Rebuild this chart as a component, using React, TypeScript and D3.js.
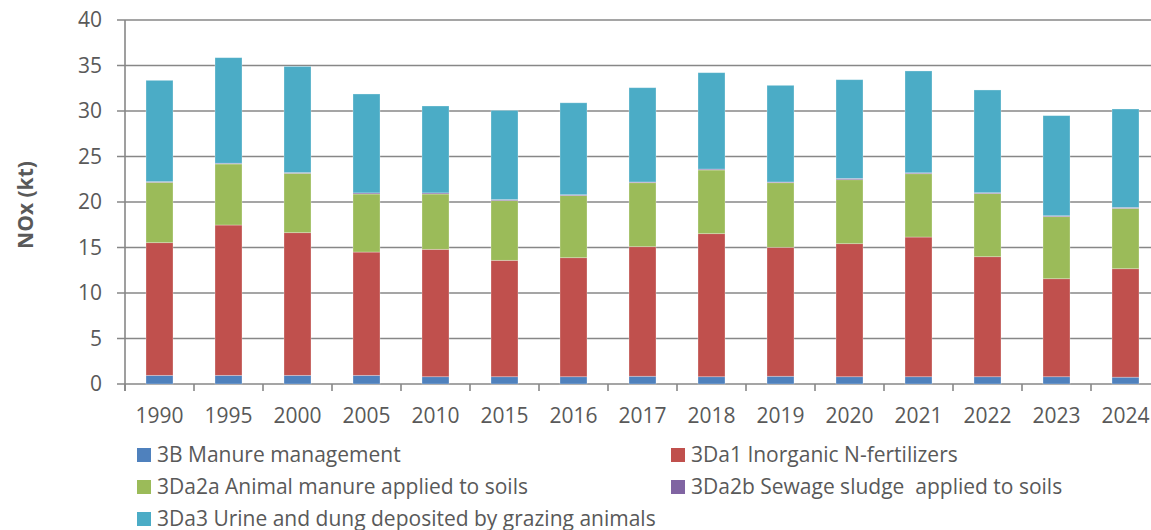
import React from "react";
import * as d3 from "d3";

const years = ["1990", "1995", "2000", "2005", "2010", "2015", "2016", "2017", "2018", "2019", "2020", "2021", "2022", "2023", "2024"];

const manure = [0.95, 0.95, 0.95, 0.95, 0.8, 0.8, 0.8, 0.85, 0.8, 0.85, 0.8, 0.8, 0.8, 0.8, 0.75];
const fertilizers = [14.58, 16.52, 15.68, 13.55, 14.0, 12.79, 13.08, 14.24, 15.72, 14.17, 14.62, 15.35, 13.19, 10.77, 11.92];
const animalManure = [6.63, 6.71, 6.52, 6.38, 6.08, 6.56, 6.82, 7.03, 7.0, 7.1, 7.03, 6.96, 6.93, 6.82, 6.63];
const sewage = [0.08, 0.08, 0.08, 0.12, 0.12, 0.12, 0.1, 0.08, 0.1, 0.08, 0.14, 0.1, 0.1, 0.1, 0.1];
const grazing = [11.13, 11.6, 11.67, 10.87, 9.55, 9.8, 10.1, 10.36, 10.59, 10.62, 10.85, 11.19, 11.29, 11.0, 10.82];

const yTicks = [0, 5, 10, 15, 20, 25, 30, 35, 40];

const seriesNames = [
  "3B Manure management",
  "3Da1 Inorganic N-fertilizers",
  "3Da2a Animal manure applied to soils",
  "3Da2b Sewage sludge  applied to soils",
  "3Da3 Urine and dung deposited by grazing animals",
];
const colors = ["#4F81BD", "#C0504D", "#9BBB59", "#8064A2", "#4BACC6"];

const W = 1151, H = 530;
const left = 125, right = 1160, top = 20, bottom = 384;
const textColor = "#595959";
const gridColor = "#878787";
const font = "'Open Sans', sans-serif";

export default function App() {
  const keys = ["manure", "fertilizers", "animalManure", "sewage", "grazing"];
  const rows = years.map((year, i) => ({
    year,
    manure: manure[i],
    fertilizers: fertilizers[i],
    animalManure: animalManure[i],
    sewage: sewage[i],
    grazing: grazing[i],
  }));
  const stacked = d3.stack<any>().keys(keys)(rows);

  const x = d3
    .scaleBand()
    .domain(years)
    .range([left, right])
    .paddingInner(42 / 69)
    .paddingOuter(21 / 69);
  const y = d3.scaleLinear().domain([0, 40]).range([bottom, top]);

  const gap = (x.step() - x.bandwidth()) / 2;
  const boundaries = years.map((yr) => (x(yr) as number) - gap);
  boundaries.push(right);

  const legendItems = [
    { i: 0, lx: 137, ly: 455 },
    { i: 1, lx: 671, ly: 455 },
    { i: 2, lx: 137, ly: 487 },
    { i: 3, lx: 671, ly: 487 },
    { i: 4, lx: 137, ly: 519 },
  ];

  return (
    <svg
      width={W}
      height={H}
      style={{ position: "absolute", left: 0, top: 0, display: "block", background: "#fff" }}
    >
      {/* gridlines */}
      {yTicks.map((t) => (
        <line key={t} x1={117} x2={W} y1={y(t)} y2={y(t)} stroke={gridColor} strokeWidth={1.6} />
      ))}
      {/* axis lines */}
      <line x1={left} x2={left} y1={top} y2={bottom + 7} stroke={gridColor} strokeWidth={1.6} />
      {boundaries.map((b, i) => (
        <line key={i} x1={b} x2={b} y1={bottom} y2={bottom + 7} stroke={gridColor} strokeWidth={1.6} />
      ))}

      {/* bars */}
      {stacked.map((s, si) => (
        <g key={s.key} fill={colors[si]}>
          {s.map((d: any, i: number) => (
            <rect
              key={i}
              x={x(years[i])}
              width={x.bandwidth()}
              y={y(d[1])}
              height={Math.max(0, y(d[0]) - y(d[1]))}
              stroke="#ffffff"
              strokeOpacity={0.35}
              strokeWidth={0.8}
            />
          ))}
        </g>
      ))}

      {/* y tick labels */}
      {yTicks.map((t) => (
        <text
          key={t}
          x={102}
          y={y(t)}
          dy="0.35em"
          textAnchor="end"
          fontFamily={font}
          fontSize={21}
          fill={textColor}
        >
          {t}
        </text>
      ))}

      {/* x tick labels */}
      {years.map((yr) => (
        <text
          key={yr}
          x={(x(yr) as number) + x.bandwidth() / 2}
          y={423}
          textAnchor="middle"
          fontFamily={font}
          fontSize={21}
          fill={textColor}
        >
          {yr}
        </text>
      ))}

      {/* y axis title */}
      <text
        transform="translate(33,205) rotate(-90)"
        textAnchor="middle"
        fontFamily={font}
        fontWeight="bold"
        fontSize={21}
        fill={textColor}
      >
        NOx (kt)
      </text>

      {/* legend */}
      {legendItems.map(({ i, lx, ly }) => (
        <g key={i}>
          <rect x={lx} y={ly - 7} width={14} height={14} fill={colors[i]} />
          <text
            x={lx + 20}
            y={ly}
            dy="0.35em"
            fontFamily={font}
            fontSize={21}
            fill={textColor}
            style={{ whiteSpace: "pre" }}
          >
            {seriesNames[i]}
          </text>
        </g>
      ))}
    </svg>
  );
}
